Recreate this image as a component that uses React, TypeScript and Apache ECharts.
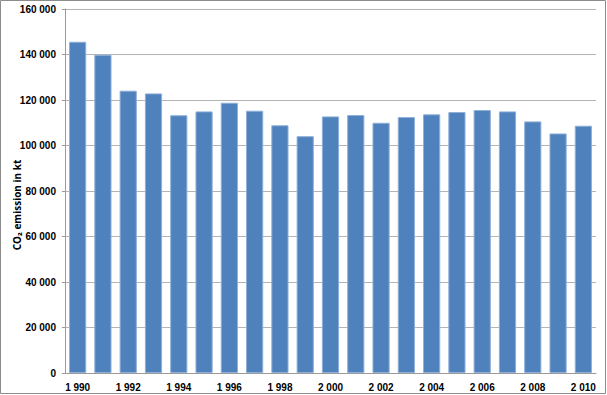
import React, { useEffect, useRef } from "react";
import * as echarts from "echarts";

const years = ["1990","1991","1992","1993","1994","1995","1996","1997","1998","1999","2000","2001","2002","2003","2004","2005","2006","2007","2008","2009","2010"];
const emissions = [145600,139900,124100,122900,113300,115000,118800,115300,108900,104100,112800,113400,110000,112500,113700,114700,115600,115000,110600,105300,108700];
const yTitle = "CO₂ emission in kt";

const fmt = (v: number | string) => String(v).replace(/\B(?=(\d{3})+(?!\d))/g, " ");

export default function App() {
  const ref = useRef<HTMLDivElement>(null);
  useEffect(() => {
    if (!ref.current) return;
    const chart = echarts.init(ref.current, null, { renderer: "svg" });
    chart.setOption({
      animation: false,
      backgroundColor: "#ffffff",
      grid: { left: 65, right: 11, top: 9, bottom: 22 },
      xAxis: {
        type: "category",
        data: years,
        axisLine: { lineStyle: { color: "#9a9a9a", width: 1 } },
        axisTick: { show: false },
        axisLabel: {
          interval: 1,
          formatter: (v: string) => fmt(v),
          fontFamily: "Liberation Sans, Arial, sans-serif",
          fontWeight: "bold",
          fontSize: 10,
          color: "#000",
          margin: 9,
        },
      },
      yAxis: {
        type: "value",
        min: 0,
        max: 160000,
        interval: 20000,
        axisLine: { show: true, lineStyle: { color: "#9a9a9a", width: 1 } },
        axisTick: { show: true, length: 3, lineStyle: { color: "#9a9a9a" } },
        splitLine: { lineStyle: { color: "#b4b4b4", width: 1 } },
        axisLabel: {
          formatter: (v: number) => fmt(v),
          fontFamily: "Liberation Sans, Arial, sans-serif",
          fontWeight: "bold",
          fontSize: 10,
          color: "#000",
          margin: 9,
        },
      },
      series: [
        {
          type: "bar",
          data: emissions,
          barCategoryGap: "32%",
          itemStyle: { color: "#4F81BD", borderColor: "#8fb0d8", borderWidth: 1 },
        },
      ],
      graphic: [
        {
          type: "rect",
          shape: { x: 0.5, y: 0.5, width: 605, height: 393 },
          style: { fill: "none", stroke: "#8c8c8c", lineWidth: 1 },
          silent: true,
        },
        {
          type: "text",
          x: 17,
          y: 205,
          rotation: Math.PI / 2,
          style: {
            text: yTitle,
            fontFamily: "Open Sans, Liberation Sans, sans-serif",
            fontWeight: "bold",
            fontSize: 10,
            fill: "#000",
            align: "center",
            verticalAlign: "middle",
          },
          silent: true,
        },
      ],
    });
    return () => chart.dispose();
  }, []);
  return (
    <div
      ref={ref}
      style={{ position: "fixed", left: 0, top: 0, width: 607, height: 395 }}
    />
  );
}
